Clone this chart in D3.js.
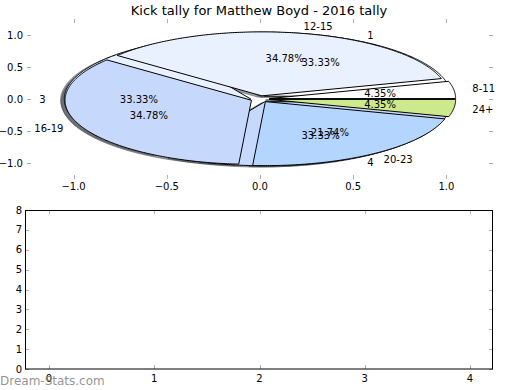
<!DOCTYPE html>
<html>
<head>
<meta charset="utf-8">
<script src="https://cdn.jsdelivr.net/npm/d3@7"></script>
<style>
  html, body { margin: 0; padding: 0; background: #fff; }
  svg { display: block; font-family: "DejaVu Sans", sans-serif; }
</style>
</head>
<body>
<svg id="chart" width="520" height="390"></svg>
<script>
// ---- data ----
const chartTitle = "Kick tally for Matthew Boyd - 2016 tally";
const ageLabels = ["8-11", "12-15", "16-19", "20-23", "24+"];
const ageCounts = [1, 8, 8, 5, 1];
const quarterLabels = ["1", "3", "4"];
const quarterCounts = [1, 1, 1];
const pieTicksX = [-1.0, -0.5, 0.0, 0.5, 1.0];
const pieTicksY = [-1.0, -0.5, 0.0, 0.5, 1.0];
const barTicksX = [0, 1, 2, 3, 4];
const barTicksY = [0, 1, 2, 3, 4, 5, 6, 7, 8];
const watermark = "Dream-Stats.com";

// ---- styles ----
const sliceColors = ["#ffffff", "#eaf1fe", "#c6d9fc", "#b3d5fe", "#cce98b"];
const explode = 0.05;
const tickColor = "#b0b0b0";

const svg = d3.select("#chart");

// ---- top: pie axes ----
const px = d3.scaleLinear().domain([-1.25, 1.25]).range([27, 493]);
const py = d3.scaleLinear().domain([-1.25, 1.25]).range([179, 19]);

svg.append("text")
  .attr("x", 259).attr("y", 14.5)
  .attr("text-anchor", "middle")
  .attr("font-size", 13)
  .text(chartTitle);

// ticks (no spines)
const gPieTicks = svg.append("g").attr("stroke", tickColor).attr("stroke-width", 1);
pieTicksX.forEach(t => {
  const x = Math.round(px(t)) + 0.5;
  gPieTicks.append("line").attr("x1", x).attr("x2", x).attr("y1", 19).attr("y2", 23);
  gPieTicks.append("line").attr("x1", x).attr("x2", x).attr("y1", 179).attr("y2", 175);
});
pieTicksY.forEach(t => {
  const y = Math.round(py(t)) + 0.5;
  gPieTicks.append("line").attr("x1", 27).attr("x2", 31).attr("y1", y).attr("y2", y);
  gPieTicks.append("line").attr("x1", 493).attr("x2", 489).attr("y1", y).attr("y2", y);
});
const fmtTick = v => d3.format(".1f")(v).replace("-", "\u2212");
pieTicksX.forEach(t => {
  svg.append("text").attr("x", px(t)).attr("y", 190)
    .attr("text-anchor", "middle").attr("font-size", 10).text(fmtTick(t));
});
pieTicksY.forEach(t => {
  svg.append("text").attr("x", 23).attr("y", py(t)).attr("dy", "0.35em")
    .attr("text-anchor", "end").attr("font-size", 10).text(fmtTick(t));
});

const pieGen = d3.pie().sort(null).value(d => d.v);
const line = d3.line().x(d => px(d[0])).y(d => py(d[1]));

function wedgePoints(a0, a1, dx, dy) {
  const mid = (a0 + a1) / 2;
  const cx = explode * Math.cos(mid) + dx;
  const cy = explode * Math.sin(mid) + dy;
  const n = Math.max(4, Math.ceil((a1 - a0) / 0.01));
  const pts = [[cx, cy]];
  for (let i = 0; i <= n; i++) {
    const a = a0 + (a1 - a0) * i / n;
    pts.push([cx + Math.cos(a), cy + Math.sin(a)]);
  }
  pts.push([cx, cy]);
  return pts;
}

function buildPie(labels, counts) {
  const data = labels.map((l, i) => ({ label: l, v: counts[i], color: sliceColors[i % sliceColors.length] }));
  const total = d3.sum(counts);
  return pieGen(data).map(d => ({ ...d, pct: d.data.v / total * 100 }));
}

const pies = [buildPie(quarterLabels, quarterCounts), buildPie(ageLabels, ageCounts)];

const gShadow = svg.append("g");
const gWedge = svg.append("g");
const gText = svg.append("g").attr("font-size", 10);

pies.forEach(arcs => {
  arcs.forEach(d => {
    const c = d3.rgb(d.data.color);
    const sc = `rgba(${Math.round(c.r * 0.3)},${Math.round(c.g * 0.3)},${Math.round(c.b * 0.3)},0.5)`;
    gShadow.append("path")
      .attr("d", line(wedgePoints(d.startAngle, d.endAngle, -0.02, -0.02)) + "Z")
      .attr("fill", sc).attr("stroke", sc).attr("stroke-width", 1);
  });
});
pies.forEach(arcs => {
  arcs.forEach(d => {
    gWedge.append("path")
      .attr("d", line(wedgePoints(d.startAngle, d.endAngle, 0, 0)) + "Z")
      .attr("fill", d.data.color).attr("stroke", "#000").attr("stroke-width", 1)
      .attr("stroke-linejoin", "miter");
  });
});
pies.forEach(arcs => {
  arcs.forEach(d => {
    const mid = (d.startAngle + d.endAngle) / 2;
    const lx = (1.1 + explode) * Math.cos(mid);
    const ly = (1.1 + explode) * Math.sin(mid);
    gText.append("text").attr("x", px(lx)).attr("y", py(ly)).attr("dy", "0.35em")
      .attr("text-anchor", lx > 0 ? "start" : "end").text(d.data.label);
    const tx = (0.6 + explode) * Math.cos(mid);
    const ty = (0.6 + explode) * Math.sin(mid);
    gText.append("text").attr("x", px(tx)).attr("y", py(ty)).attr("dy", "0.35em")
      .attr("text-anchor", "middle").text(d3.format(".2f")(d.pct) + "%");
  });
});

// ---- bottom: empty axes ----
const bx = d3.scaleLinear().domain([-0.228, 4.218]).range([25, 493]);
const by = d3.scaleLinear().domain([0, 8]).range([369, 210]);

const gB = svg.append("g").attr("stroke", tickColor).attr("stroke-width", 1);
barTicksX.forEach(t => {
  const x = Math.round(bx(t)) + 0.5;
  gB.append("line").attr("x1", x).attr("x2", x).attr("y1", 369).attr("y2", 365);
  gB.append("line").attr("x1", x).attr("x2", x).attr("y1", 210).attr("y2", 214);
});
barTicksY.forEach(t => {
  const y = Math.round(by(t)) + 0.5;
  gB.append("line").attr("x1", 25).attr("x2", 29).attr("y1", y).attr("y2", y);
  gB.append("line").attr("x1", 493).attr("x2", 489).attr("y1", y).attr("y2", y);
});
svg.append("rect").attr("x", 25.5).attr("y", 210.5).attr("width", 467).attr("height", 158.5)
  .attr("fill", "none").attr("stroke", "#000").attr("stroke-width", 1);

barTicksX.forEach(t => {
  svg.append("text").attr("x", bx(t)).attr("y", 382)
    .attr("text-anchor", "middle").attr("font-size", 10).text(t);
});
barTicksY.forEach(t => {
  svg.append("text").attr("x", 22).attr("y", by(t)).attr("dy", "0.35em")
    .attr("text-anchor", "end").attr("font-size", 10).text(t);
});

svg.append("text").attr("x", 0).attr("y", 385)
  .attr("font-size", 12).attr("fill", "#808080").attr("fill-opacity", 0.85)
  .text(watermark);
</script>
</body>
</html>
